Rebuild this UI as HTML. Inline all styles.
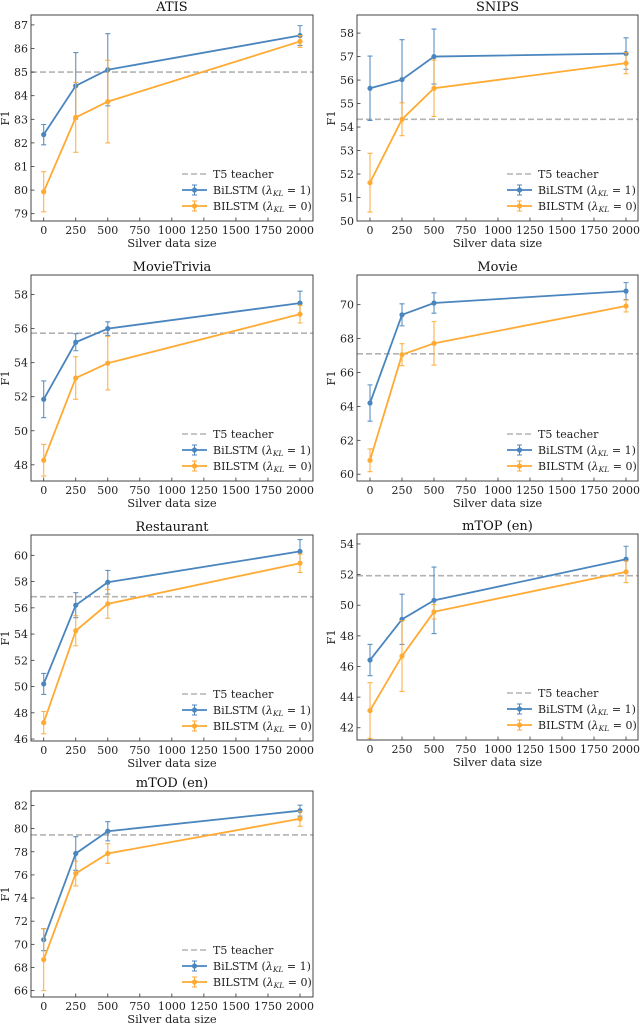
<!DOCTYPE html>
<html><head><meta charset="utf-8">
<style>
html,body{margin:0;padding:0;background:#fff;}
svg{display:block;font-family:"DejaVu Serif","Liberation Serif",serif;}
</style></head>
<body>
<svg id="fig" width="640" height="1024" viewBox="0 0 640 1024"></svg>
<script>
const xCats = [0, 250, 500, 2000];
const xTickLabels = [0, 250, 500, 750, 1000, 1250, 1500, 1750, 2000];
const panelTitles = ["ATIS", "SNIPS", "MovieTrivia", "Movie", "Restaurant", "mTOP (en)", "mTOD (en)"];
const teacherValues = [85.0, 54.33, 55.73, 67.1, 56.85, 51.93, 79.45];
const blueValues = [
  [82.35, 84.42, 85.1, 86.55],
  [55.65, 56.02, 57.0, 57.13],
  [51.85, 55.2, 56.0, 57.5],
  [64.2, 69.4, 70.1, 70.8],
  [50.2, 56.2, 57.95, 60.3],
  [46.42, 49.08, 50.32, 53.0],
  [70.4, 77.85, 79.77, 81.55]
];
const blueErrors = [
  [0.43, 1.41, 1.53, 0.42],
  [1.37, 1.7, 1.17, 0.67],
  [1.08, 0.5, 0.4, 0.7],
  [1.07, 0.65, 0.6, 0.5],
  [0.8, 0.95, 0.9, 0.9],
  [1.02, 1.64, 2.17, 0.85],
  [0.95, 1.45, 0.83, 0.47]
];
const orangeValues = [
  [79.93, 83.08, 83.75, 86.3],
  [51.63, 54.33, 55.65, 56.72],
  [48.27, 53.1, 53.97, 56.85],
  [60.82, 67.05, 67.72, 69.92],
  [47.25, 54.25, 56.3, 59.4],
  [43.12, 46.68, 49.57, 52.18],
  [68.68, 76.12, 77.85, 80.85]
];
const orangeErrors = [
  [0.85, 1.48, 1.75, 0.25],
  [1.25, 0.7, 1.2, 0.45],
  [0.93, 1.25, 1.57, 0.52],
  [0.67, 0.65, 1.28, 0.35],
  [0.85, 1.15, 1.1, 0.7],
  [1.82, 2.31, 0.47, 0.7],
  [2.68, 1.07, 0.85, 0.65]
];
const yTicks = [
  [79, 80, 81, 82, 83, 84, 85, 86, 87],
  [50, 51, 52, 53, 54, 55, 56, 57, 58],
  [48, 50, 52, 54, 56, 58],
  [60, 62, 64, 66, 68, 70],
  [46, 48, 50, 52, 54, 56, 58, 60],
  [42, 44, 46, 48, 50, 52, 54],
  [66, 68, 70, 72, 74, 76, 78, 80, 82]
];
// axis range per panel: [low value at box bottom, high value at box top]
const yRanges = [
  [78.69, 87.42],
  [50.0, 58.77],
  [47.05, 59.15],
  [59.6, 71.75],
  [45.85, 61.55],
  [41.2, 54.65],
  [65.45, 83.25]
];

const NS = "http://www.w3.org/2000/svg";
const svg = document.getElementById("fig");
const BLUE = "#4a85be", ORANGE = "#ffaa33", GRAY = "#b3b3b3";
function mk(tag, attrs, parent) {
  const e = document.createElementNS(NS, tag);
  for (const k in attrs) e.setAttribute(k, attrs[k]);
  (parent || svg).appendChild(e);
  return e;
}
const boxTops = [15, 15, 275, 275, 535, 534, 791];
const boxH = 206;

panelTitles.forEach((title, p) => {
  const col = p % 2;
  const L = col === 0 ? 31 : 357, R = col === 0 ? 313 : 638;
  const x0 = col === 0 ? 43.7 : 370, x1 = col === 0 ? 300 : 626;
  const T = boxTops[p], B = T + boxH;
  const [lo, hi] = yRanges[p];
  const xs = v => x0 + (v - 0) / 2000 * (x1 - x0);
  const ys = v => B - (v - lo) / (hi - lo) * (B - T);
  const g = mk("g", {});
  
  

  const t = mk("text", {x: (L + R) / 2, y: T - 4, "text-anchor": "middle", "font-size": 13, fill: "#111"}, g);
  t.textContent = title;
  
  

  // teacher line
  const tl = mk("line", {x1: L, x2: R, y1: ys(teacherValues[p]), y2: ys(teacherValues[p]), stroke: GRAY, "stroke-width": 1.6, "stroke-dasharray": "6,3"}, g);
  
  

  // y ticks
  yTicks[p].forEach(v => {
    const y = ys(v);
    mk("line", {x1: L, x2: L + 3.5, y1: y, y2: y, stroke: "#333", "stroke-width": 0.8}, g);
    const tx = mk("text", {x: L - 3, y: y + 4, "text-anchor": "end", "font-size": 11, fill: "#222"}, g);
    tx.textContent = v;
    
    
  });
  xTickLabels.forEach(v => {
    const x = xs(v);
    mk("line", {x1: x, x2: x, y1: B, y2: B - 3.5, stroke: "#333", "stroke-width": 0.8}, g);
    const tx = mk("text", {x: x, y: B + 13, "text-anchor": "middle", "font-size": 11, fill: "#222"}, g);
    tx.textContent = v;
    
    
  });
  const xl = mk("text", {x: (L + R) / 2, y: B + 26, "text-anchor": "middle", "font-size": 11.5, fill: "#222"}, g);
  xl.textContent = "Silver data size";
  
  
  const yl = mk("text", {x: 0, y: 0, "text-anchor": "middle", "font-size": 11.5, fill: "#222", transform: `translate(${L - 22},${(T + B) / 2}) rotate(-90)`}, g);
  yl.textContent = "F1";
  
  

  // series
  [[blueValues, blueErrors, BLUE, "blue"], [orangeValues, orangeErrors, ORANGE, "orange"]].forEach(([vals, errs, c, nm]) => {
    const sg = mk("g", {}, g);
    
    
    const pts = xCats.map((x, i) => xs(x) + "," + ys(vals[p][i])).join(" ");
    mk("polyline", {points: pts, fill: "none", stroke: c, "stroke-width": 1.8}, sg);
    xCats.forEach((x, i) => {
      const cx = xs(x), v = vals[p][i], e = errs[p][i];
      const eb = mk("path", {d: `M${cx},${ys(v - e)}V${ys(v + e)}M${cx - 2.5},${ys(v - e)}H${cx + 2.5}M${cx - 2.5},${ys(v + e)}H${cx + 2.5}`, stroke: c, "stroke-width": 1.1, fill: "none", opacity: 0.9}, sg);
      
      
      const pt = mk("circle", {cx: cx, cy: ys(v), r: 2.6, fill: c}, sg);
      
      
    });
  });

  // frame
  mk("rect", {x: L, y: T, width: R - L, height: B - T, fill: "none", stroke: "#444", "stroke-width": 1}, g);

  // legend
  const lg = mk("g", {}, g);
  
  
  const lx = R - 131, tx = R - 100;
  const rows = [[B - 47, GRAY, "T5 teacher", true], [B - 31, BLUE, "BiLSTM (", false], [B - 15, ORANGE, "BILSTM (", false]];
  rows.forEach(([y, c, label, dash], i) => {
    if (dash) {
      mk("line", {x1: lx, x2: lx + 25, y1: y, y2: y, stroke: c, "stroke-width": 1.6, "stroke-dasharray": "6,3"}, lg);
    } else {
      mk("line", {x1: lx, x2: lx + 25, y1: y, y2: y, stroke: c, "stroke-width": 1.8}, lg);
      mk("path", {d: `M${lx + 12.5},${y - 5}V${y + 5}M${lx + 10},${y - 5}H${lx + 15}M${lx + 10},${y + 5}H${lx + 15}`, stroke: c, "stroke-width": 1}, lg);
      mk("circle", {cx: lx + 12.5, cy: y, r: 2.6, fill: c}, lg);
    }
    const te = mk("text", {x: tx, y: y + 4, "font-size": 11, fill: "#222"}, lg);
    if (dash) te.textContent = label;
    else te.innerHTML = label + '<tspan font-style="italic">λ</tspan><tspan font-style="italic" font-size="7.5" dy="2">KL</tspan><tspan dy="-2"> = ' + (i === 1 ? 1 : 0) + ')</tspan>';
    
    
  });
});
</script>
</body></html>
